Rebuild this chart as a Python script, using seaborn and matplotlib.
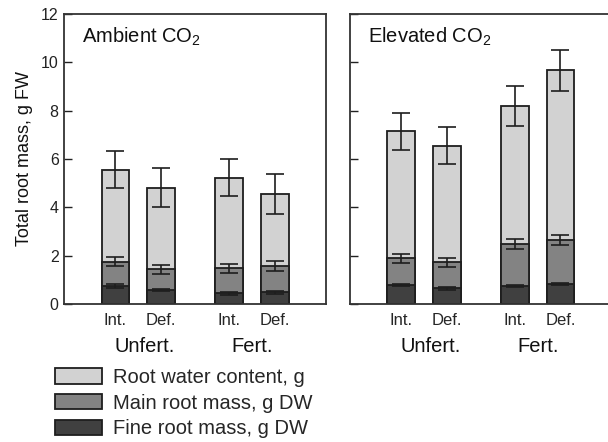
import numpy as np
import pandas as pd
import matplotlib
matplotlib.use("Agg")
import matplotlib.pyplot as plt
import seaborn as sns
from matplotlib.patches import Patch
from matplotlib.transforms import ScaledTranslation

# ---------------- data ----------------
fert_levels = ["Unfert.", "Unfert.", "Fert.", "Fert."]
treatments = ["Int.", "Def.", "Int.", "Def."]
group_labels = ["Unfert.", "Fert."]
panel_titles = ["Ambient CO$_2$", "Elevated CO$_2$"]
legend_labels = ["Root water content, g", "Main root mass, g DW", "Fine root mass, g DW"]
y_ticks = [0, 2, 4, 6, 8, 10, 12]

ambient_fine = [0.74, 0.57, 0.44, 0.48]
ambient_fine_err = [0.07, 0.05, 0.06, 0.05]
ambient_main = [1.01, 0.86, 1.03, 1.11]
ambient_main_err = [0.18, 0.19, 0.18, 0.21]
ambient_water = [3.80, 3.38, 3.76, 2.97]
ambient_water_err = [0.77, 0.80, 0.77, 0.84]

elevated_fine = [0.79, 0.65, 0.74, 0.83]
elevated_fine_err = [0.05, 0.05, 0.05, 0.05]
elevated_main = [1.10, 1.07, 1.74, 1.81]
elevated_main_err = [0.18, 0.19, 0.22, 0.20]
elevated_water = [5.25, 4.83, 5.71, 7.03]
elevated_water_err = [0.78, 0.77, 0.84, 0.85]

# ---------------- style ----------------
sns.set_theme(style="ticks")
plt.rcParams['font.family'] = ['Liberation Sans', 'DejaVu Sans']
plt.rcParams['mathtext.default'] = 'regular'

C_LIGHT = "#d2d2d2"
C_MID = "#838383"
C_DARK = "#404040"
EDGE = "#1e1e1e"

W, H = 608, 442
fig = plt.figure(figsize=(W / 100, H / 100), dpi=100)


def rect(l, t, r, b):
    return [l / W, 1 - b / H, (r - l) / W, (b - t) / H]


ax1 = fig.add_axes(rect(64.3, 14, 325.7, 304))
ax2 = fig.add_axes(rect(350, 14, 611.4, 304))

# bar positions: two bars per fertilisation group, gap between groups
grp_index = [0, 0, 1, 1]
pos = [i + 0.5 * g for i, g in enumerate(grp_index)]
grp_centers = [0.65, 3.0]

panels = [
    (ax1, ambient_fine, ambient_fine_err, ambient_main, ambient_main_err, ambient_water, ambient_water_err),
    (ax2, elevated_fine, elevated_fine_err, elevated_main, elevated_main_err, elevated_water, elevated_water_err),
]

shift = ScaledTranslation(4 / 100, 0, fig.dpi_scale_trans)

for k, (ax, fine, fine_e, main, main_e, water, water_e) in enumerate(panels):
    fine = np.array(fine)
    main_cum = fine + np.array(main)
    total = main_cum + np.array(water)
    df = pd.DataFrame({"pos": pos, "fine": fine, "main_cum": main_cum, "total": total,
                       "fert": fert_levels, "trt": treatments})
    for col, c in [("total", C_LIGHT), ("main_cum", C_MID), ("fine", C_DARK)]:
        sns.barplot(data=df, x="pos", y=col, native_scale=True, orient="x", color=c,
                    saturation=1, edgecolor=EDGE, linewidth=1.3, width=0.61,
                    errorbar=None, ax=ax, zorder=2)
    for yv, ye in [(total, water_e), (main_cum, main_e), (fine, fine_e)]:
        ax.errorbar(pos, yv, yerr=ye, fmt="none", ecolor=EDGE, elinewidth=1.2,
                    capsize=6.5, capthick=1.2, zorder=5)

    ax.set_xlim(-1.125, 4.62)
    ax.set_ylim(0, 12)
    ax.set_yticks(y_ticks)
    ax.set_xticks(pos)
    ax.set_xticklabels(treatments, fontsize=12)
    for lab in ax.get_xticklabels():
        lab.set_transform(lab.get_transform() + shift)
    ax.tick_params(axis="x", length=0, pad=6.5)
    ax.tick_params(axis="y", direction="in", length=6, width=1, colors="#222222",
                   labelsize=11.5, pad=4)
    ax.set_xlabel("")
    ax.set_ylabel("")
    for sp in ax.spines.values():
        sp.set_visible(True)
        sp.set_linewidth(1.3)
        sp.set_color("#333333")
    for xc, lab in zip(grp_centers, group_labels):
        ax.text(xc, -0.148, lab, transform=ax.get_xaxis_transform(), ha="center",
                va="center", fontsize=14.5, color="#111111")
    ax.text(0.068, 0.90, panel_titles[k], transform=ax.transAxes, ha="left",
            va="baseline", fontsize=14.5, color="#111111")

ax2.tick_params(axis="y", labelleft=False)
ax1.set_ylabel("Total root mass, g FW", fontsize=13, labelpad=6, color="#111111")

handles = [Patch(facecolor=c, edgecolor=EDGE, linewidth=1.3) for c in (C_LIGHT, C_MID, C_DARK)]
fig.legend(handles, legend_labels, loc="upper left", bbox_to_anchor=(55 / W, 1 - 368 / H),
           frameon=False, fontsize=14.5, handlelength=2.35, handleheight=0.8,
           handletextpad=0.55, labelspacing=0.33, borderpad=0, borderaxespad=0)

fig.savefig("out.png", dpi=100)
